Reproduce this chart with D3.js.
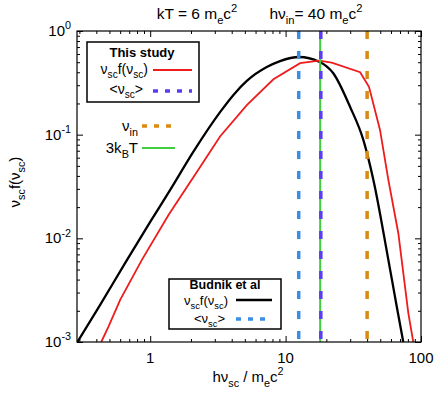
<!DOCTYPE html>
<html>
<head>
<meta charset="utf-8">
<script src="https://cdn.jsdelivr.net/npm/d3@7"></script>
<style>
  html, body { margin: 0; padding: 0; background: #fff; }
  svg { display: block; font-family: "Liberation Sans", Arial, Helvetica, sans-serif; }
</style>
</head>
<body>
<div id="chart"></div>
<script>
// energies (h nu / m_e c^2) and nu f(nu)
const budnikE = [0.29, 0.427, 0.654, 1.0, 1.405, 2.08, 3.28, 4.12, 5.17, 7.26, 9.1, 12.6, 17.7, 22.5, 29.9, 37.5, 44.5, 57.4, 66.2, 74];
const budnikF = [0.001, 0.00228, 0.0058, 0.0144, 0.0293, 0.0682, 0.165, 0.242, 0.33, 0.449, 0.513, 0.561, 0.506, 0.391, 0.186, 0.089, 0.0366, 0.0062, 0.0022, 0.001];

const studyE = [0.435, 0.492, 0.60, 0.868, 1.365, 2.26, 3.28, 5.17, 8.13, 12.8, 17.7, 21.9, 35.5, 41.3, 49.8, 57.4, 68, 80.6, 87.7];
const studyF = [0.001, 0.00141, 0.00255, 0.0062, 0.0168, 0.0457, 0.096, 0.193, 0.342, 0.489, 0.517, 0.495, 0.40, 0.29, 0.111, 0.0366, 0.0112, 0.0019, 0.001];

// vertical markers
const budnikMean = 12.5;
const studyMean = 18.2;
const nuIn = 40;
const threeKT = 18;

const xDomain = [0.288, 100];
const yDomain = [1e-3, 1];
const xTickVals = [1, 10, 100];
const xTickLabels = ["1", "10", "100"];
const yTickVals = [1e-3, 1e-2, 1e-1, 1];
const yTickExps = ["-3", "-2", "-1", "0"];

const W = 436, H = 394;
const m = {left: 77, right: 15, top: 31, bottom: 52};

const svg = d3.select("#chart").append("svg")
  .attr("width", W).attr("height", H);

const x = d3.scaleLog().domain(xDomain).range([m.left, W - m.right]);
const y = d3.scaleLog().domain(yDomain).range([H - m.bottom, m.top]);

// rich text with sub/superscripts
function rich(sel, parts, fs) {
  let shift = 0;
  parts.forEach(([t, k]) => {
    const target = k === "sub" ? fs * 0.3 : k === "sup" ? -fs * 0.45 : 0;
    sel.append("tspan")
      .attr("dy", target - shift)
      .attr("font-size", k ? fs * 0.72 : fs)
      .text(t);
    shift = target;
  });
  return sel;
}

const clipId = "plotclip";
svg.append("clipPath").attr("id", clipId).append("rect")
  .attr("x", m.left).attr("y", m.top)
  .attr("width", W - m.left - m.right).attr("height", H - m.top - m.bottom);

// minor + major ticks, inward, mirrored
const xMinor = [];
for (let d = 0.1; d < 100; d *= 10) for (let k = 2; k <= 9; k++) { const v = d * k; if (v > xDomain[0] && v < xDomain[1]) xMinor.push(v); }
const yMinor = [];
for (let d = 1e-3; d < 1; d *= 10) for (let k = 2; k <= 9; k++) yMinor.push(d * k);

function addAxis(ax, tx, ty) {
  const g = svg.append("g").attr("transform", `translate(${tx},${ty})`).call(ax);
  g.select(".domain").remove();
  g.selectAll("line").attr("stroke", "#000").attr("stroke-width", 1);
}
const noLab = () => "";
addAxis(d3.axisBottom(x).tickValues(xTickVals).tickSize(-6).tickFormat(noLab), 0, H - m.bottom);
addAxis(d3.axisBottom(x).tickValues(xMinor).tickSize(-3).tickFormat(noLab), 0, H - m.bottom);
addAxis(d3.axisTop(x).tickValues(xTickVals).tickSize(-6).tickFormat(noLab), 0, m.top);
addAxis(d3.axisTop(x).tickValues(xMinor).tickSize(-3).tickFormat(noLab), 0, m.top);
addAxis(d3.axisLeft(y).tickValues(yTickVals).tickSize(-6).tickFormat(noLab), m.left, 0);
addAxis(d3.axisLeft(y).tickValues(yMinor).tickSize(-3).tickFormat(noLab), m.left, 0);
addAxis(d3.axisRight(y).tickValues(yTickVals).tickSize(-6).tickFormat(noLab), W - m.right, 0);
addAxis(d3.axisRight(y).tickValues(yMinor).tickSize(-3).tickFormat(noLab), W - m.right, 0);

// tick labels
svg.append("g").selectAll("text").data(xTickVals).join("text")
  .attr("x", d => x(d)).attr("y", H - m.bottom + 21)
  .attr("text-anchor", "middle").attr("font-size", 15)
  .text((d, i) => xTickLabels[i]);

yTickVals.forEach((v, i) => {
  const t = svg.append("text")
    .attr("x", m.left - 6).attr("y", y(v) + 5)
    .attr("text-anchor", "end");
  rich(t, [["10", ""], [yTickExps[i], "sup"]], 15);
});

// curves
const plot = svg.append("g").attr("clip-path", `url(#${clipId})`);
const line = d3.line().x(d => x(d[0])).y(d => y(d[1]));

plot.append("path")
  .datum(budnikE.map((e, i) => [e, budnikF[i]]))
  .attr("fill", "none").attr("stroke", "#000").attr("stroke-width", 2.3)
  .attr("d", line.curve(d3.curveMonotoneX));

plot.append("path")
  .datum(studyE.map((e, i) => [e, studyF[i]]))
  .attr("fill", "none").attr("stroke", "#ee1c1c").attr("stroke-width", 1.8)
  .attr("d", line.curve(d3.curveLinear));

// vertical markers
const vlines = [
  {v: budnikMean, color: "#3a8ee8", dash: "8,12", w: 3.5},
  {v: threeKT, color: "#3fcf3f", dash: null, w: 2},
  {v: studyMean, color: "#5b3cf5", dash: "8,12", w: 3.5},
  {v: nuIn, color: "#d98a10", dash: "8,12", w: 3.5}
];
vlines.forEach(l => {
  plot.append("line")
    .attr("x1", x(l.v)).attr("x2", x(l.v))
    .attr("y1", m.top).attr("y2", H - m.bottom)
    .attr("stroke", l.color).attr("stroke-width", l.w)
    .attr("stroke-dasharray", l.dash);
});

// frame
svg.append("rect")
  .attr("x", m.left).attr("y", m.top)
  .attr("width", W - m.left - m.right).attr("height", H - m.top - m.bottom)
  .attr("fill", "none").attr("stroke", "#000").attr("stroke-width", 1.2);

// titles
rich(svg.append("text").attr("x", 197).attr("y", 19).attr("text-anchor", "middle"),
  [["kT = 6 m", ""], ["e", "sub"], ["c", ""], ["2", "sup"]], 15.5);
rich(svg.append("text").attr("x", 316).attr("y", 19).attr("text-anchor", "middle"),
  [["hν", ""], ["in", "sub"], ["= 40 m", ""], ["e", "sub"], ["c", ""], ["2", "sup"]], 15.5);

// axis labels
rich(svg.append("text").attr("x", 248).attr("y", 382).attr("text-anchor", "middle"),
  [["hν", ""], ["sc", "sub"], [" / m", ""], ["e", "sub"], ["c", ""], ["2", "sup"]], 15);
rich(svg.append("text").attr("transform", "translate(20,182) rotate(-90)").attr("text-anchor", "middle"),
  [["ν", ""], ["sc", "sub"], ["f(ν", ""], ["sc", "sub"], [")", ""]], 15);

// legend: this study
svg.append("rect").attr("x", 87).attr("y", 42).attr("width", 112).attr("height", 60)
  .attr("fill", "#fff").attr("stroke", "#000").attr("stroke-width", 1.5);
svg.append("text").attr("x", 142).attr("y", 57).attr("text-anchor", "middle")
  .attr("font-size", 13).attr("font-weight", "bold").text("This study");
rich(svg.append("text").attr("x", 148).attr("y", 74).attr("text-anchor", "end"),
  [["ν", ""], ["sc", "sub"], ["f(ν", ""], ["sc", "sub"], [")", ""]], 14);
svg.append("line").attr("x1", 153).attr("x2", 192).attr("y1", 70).attr("y2", 70)
  .attr("stroke", "#ee1c1c").attr("stroke-width", 1.8);
rich(svg.append("text").attr("x", 143).attr("y", 94).attr("text-anchor", "end"),
  [["<ν", ""], ["sc", "sub"], [">", ""]], 14);
svg.append("line").attr("x1", 153).attr("x2", 192).attr("y1", 91).attr("y2", 91)
  .attr("stroke", "#5b3cf5").attr("stroke-width", 3.5).attr("stroke-dasharray", "5,7");

// loose keys
rich(svg.append("text").attr("x", 138).attr("y", 131).attr("text-anchor", "end"),
  [["ν", ""], ["in", "sub"]], 15);
svg.append("line").attr("x1", 142).attr("x2", 175).attr("y1", 126).attr("y2", 126)
  .attr("stroke", "#d98a10").attr("stroke-width", 3.5).attr("stroke-dasharray", "5,7");
rich(svg.append("text").attr("x", 138).attr("y", 153).attr("text-anchor", "end"),
  [["3k", ""], ["B", "sub"], ["T", ""]], 15);
svg.append("line").attr("x1", 142).attr("x2", 175).attr("y1", 148).attr("y2", 148)
  .attr("stroke", "#3fcf3f").attr("stroke-width", 2);

// legend: budnik
svg.append("rect").attr("x", 169).attr("y", 279).attr("width", 112).attr("height", 50)
  .attr("fill", "#fff").attr("stroke", "#000").attr("stroke-width", 1.5);
svg.append("text").attr("x", 225).attr("y", 289).attr("text-anchor", "middle")
  .attr("font-size", 12.5).attr("font-weight", "bold").text("Budnik et al");
rich(svg.append("text").attr("x", 228).attr("y", 305).attr("text-anchor", "end"),
  [["ν", ""], ["sc", "sub"], ["f(ν", ""], ["sc", "sub"], [")", ""]], 13);
svg.append("line").attr("x1", 236).attr("x2", 272).attr("y1", 300).attr("y2", 300)
  .attr("stroke", "#000").attr("stroke-width", 2.3);
rich(svg.append("text").attr("x", 225).attr("y", 323).attr("text-anchor", "end"),
  [["<ν", ""], ["sc", "sub"], [">", ""]], 13);
svg.append("line").attr("x1", 236).attr("x2", 272).attr("y1", 319).attr("y2", 319)
  .attr("stroke", "#3a8ee8").attr("stroke-width", 3.5).attr("stroke-dasharray", "5,7");
</script>
</body>
</html>
